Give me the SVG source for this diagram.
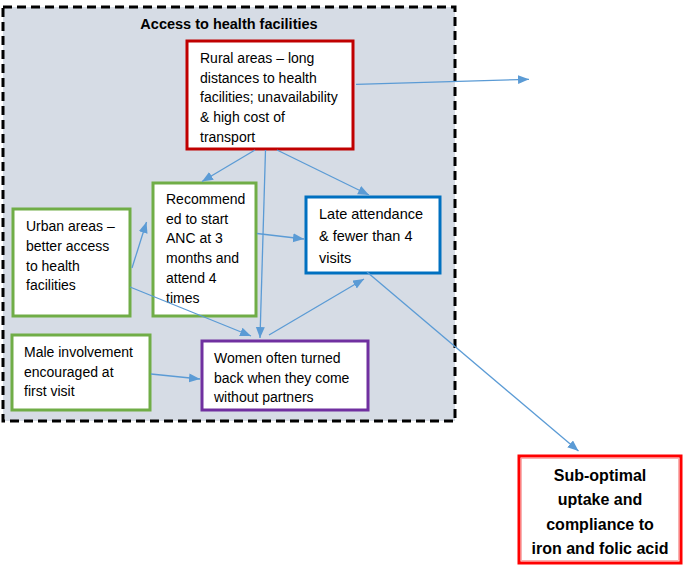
<svg xmlns="http://www.w3.org/2000/svg" width="685" height="565" viewBox="0 0 685 565">
<style>
text{font-family:"Liberation Sans",Arial,sans-serif;fill:#000}
.t{font-size:14px}
.tl{font-size:14.5px}
.b{font-weight:bold}
.box{fill:#fff;stroke-width:3}
.c{fill:none;stroke:#5B9BD5;stroke-width:1.3;marker-end:url(#ah)}
</style>
<defs>
<marker id="ah" markerUnits="userSpaceOnUse" markerWidth="12" markerHeight="10" refX="11" refY="4.5" orient="auto">
<path d="M0,0 L11,4.5 L0,9 Z" fill="#5B9BD5"/>
</marker>
</defs>
<rect width="685" height="565" fill="#fff"/>
<g id="container">
<rect x="3" y="7" width="452" height="414" fill="#D6DCE5" stroke="#000" stroke-width="3" stroke-dasharray="9 5"/>
<text class="b" x="229" y="28.5" font-size="14.5" text-anchor="middle">Access to health facilities</text>
</g>
<g id="rural">
<rect class="box" x="187" y="41" width="166" height="108" stroke="#C00000"/>
<text class="t" x="200"><tspan x="200" y="63">Rural areas – long</tspan><tspan x="200" y="82.7">distances to health</tspan><tspan x="200" y="102.4">facilities; unavailability</tspan><tspan x="200" y="122.1">&amp; high cost of</tspan><tspan x="200" y="141.8">transport</tspan></text>
</g>
<g id="urban">
<rect class="box" x="13" y="209" width="117" height="107" stroke="#70AD47"/>
<text class="t"><tspan x="26" y="231">Urban areas –</tspan><tspan x="26" y="251">better access</tspan><tspan x="26" y="270.5">to health</tspan><tspan x="26" y="290">facilities</tspan></text>
</g>
<g id="recommended">
<rect class="box" x="153" y="183" width="103" height="133" stroke="#70AD47"/>
<text class="t"><tspan x="166" y="204">Recommend</tspan><tspan x="166" y="223.7">ed to start</tspan><tspan x="166" y="243.4">ANC at 3</tspan><tspan x="166" y="263.1">months and</tspan><tspan x="166" y="282.8">attend 4</tspan><tspan x="166" y="302.5">times</tspan></text>
</g>
<g id="late">
<rect class="box" x="306" y="197" width="134" height="76" stroke="#0070C0"/>
<text class="tl"><tspan x="319" y="219">Late attendance</tspan><tspan x="319" y="241">&amp; fewer than 4</tspan><tspan x="319" y="262.5">visits</tspan></text>
</g>
<g id="male">
<rect class="box" x="12" y="335" width="138" height="75" stroke="#70AD47"/>
<text class="t"><tspan x="24" y="357">Male involvement</tspan><tspan x="24" y="376.5">encouraged at</tspan><tspan x="24" y="396">first visit</tspan></text>
</g>
<g id="women">
<rect class="box" x="202" y="341" width="166" height="69" stroke="#7030A0"/>
<text class="t"><tspan x="214" y="363">Women often turned</tspan><tspan x="214" y="382.5">back when they come</tspan><tspan x="214" y="402">without partners</tspan></text>
</g>
<g id="outcome">
<rect x="519" y="456" width="162" height="107" fill="#fff" stroke="#FF0000" stroke-width="3"/>
<rect x="521.5" y="458.5" width="157" height="102" fill="none" stroke="#F4A0A0" stroke-width="0.8"/>
<text class="b" font-size="16" text-anchor="middle"><tspan x="600" y="480.5">Sub-optimal</tspan><tspan x="600" y="505">uptake and</tspan><tspan x="600" y="529.5">compliance to</tspan><tspan x="600" y="554">iron and folic acid</tspan></text>
</g>
<g id="connectors">
<line class="c" x1="356" y1="84.3" x2="529" y2="79.3"/>
<line class="c" x1="255" y1="150" x2="202" y2="181.5"/>
<line class="c" x1="265.5" y1="150" x2="260" y2="338"/>
<line class="c" x1="277" y1="150" x2="369" y2="195"/>
<line class="c" x1="132" y1="268" x2="146.5" y2="222"/>
<line class="c" x1="130" y1="287" x2="251" y2="336"/>
<line class="c" x1="257" y1="233.5" x2="304" y2="239"/>
<line class="c" x1="269" y1="335" x2="364" y2="279"/>
<line class="c" x1="151" y1="374" x2="200" y2="379"/>
<line class="c" x1="367" y1="272" x2="578.5" y2="451"/>
</g>
</svg>
